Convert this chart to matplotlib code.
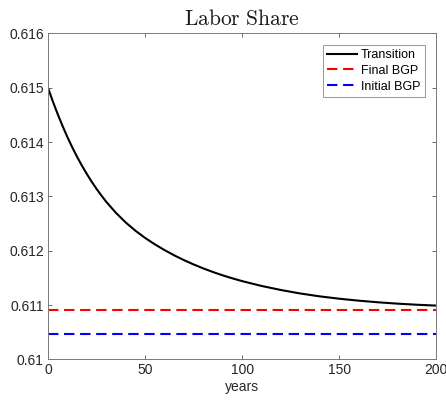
import matplotlib

matplotlib.use("Agg")
import matplotlib.pyplot as plt
from matplotlib.ticker import FuncFormatter

# labor share along the transition path
years = [0, 2.5, 5, 7.5, 10, 12.5, 15, 17.5, 20, 22.5, 25, 27.5, 30, 35, 40,
         45, 50, 55, 60, 65, 70, 75, 80, 85, 90, 95, 100, 110, 120, 130, 140,
         150, 160, 170, 180, 190, 200]
labor_share = [0.615000, 0.614749, 0.614515, 0.614297, 0.614092, 0.613904,
               0.613728, 0.613565, 0.613413, 0.613271, 0.613139, 0.613017,
               0.612901, 0.612697, 0.612521, 0.612369, 0.612236, 0.612118,
               0.612012, 0.611915, 0.611827, 0.611747, 0.611674, 0.611607,
               0.611546, 0.611491, 0.611440, 0.611351, 0.611276, 0.611212,
               0.611159, 0.611116, 0.611080, 0.611050, 0.611025, 0.611005,
               0.610989]

# balanced growth path levels
final_bgp = 0.61091
initial_bgp = 0.61046

plt.rcParams["font.family"] = ["Liberation Sans", "DejaVu Sans"]
plt.rcParams["mathtext.fontset"] = "cm"

fig = plt.figure(figsize=(4.46, 4.05), dpi=100)
ax = fig.add_axes([0.1076, 0.1128, 0.8707, 0.8045])

ax.plot(years, labor_share, color="black", lw=1.5, label="Transition")
ax.plot([0, 200], [final_bgp, final_bgp], color=(1, 0, 0), lw=1.5,
        dashes=(5, 2.7), label="Final BGP")
ax.plot([0, 200], [initial_bgp, initial_bgp], color=(0, 0, 1), lw=1.5,
        dashes=(5, 2.7), label="Initial BGP")

ax.set_xlim(0, 200)
ax.set_ylim(0.61, 0.616)
ax.set_xticks([0, 50, 100, 150, 200])
ax.set_yticks([0.61, 0.611, 0.612, 0.613, 0.614, 0.615, 0.616])
ax.yaxis.set_major_formatter(FuncFormatter(lambda v, _: f"{v:g}"))

grey = "#262626"
for s in ax.spines.values():
    s.set_color("#7a7a7a")
    s.set_linewidth(0.7)
ax.tick_params(direction="in", top=True, right=True, length=3,
               width=0.6, color="#555555", labelsize=10, labelcolor=grey,
               pad=3)

ax.set_xlabel("years", fontsize=10, color=grey, labelpad=2)
ax.set_title(r"$\mathrm{Labor\ Share}$", fontsize=15.5, color="#1a1a1a", pad=6)

leg = ax.legend(loc="upper right", fontsize=9, frameon=True, fancybox=False,
                edgecolor="#7f7f7f", labelspacing=0.3, handlelength=2.4,
                handletextpad=0.3, borderpad=0.35, borderaxespad=0.9)
leg.get_frame().set_linewidth(0.7)

fig.savefig("out.png", dpi=100)
